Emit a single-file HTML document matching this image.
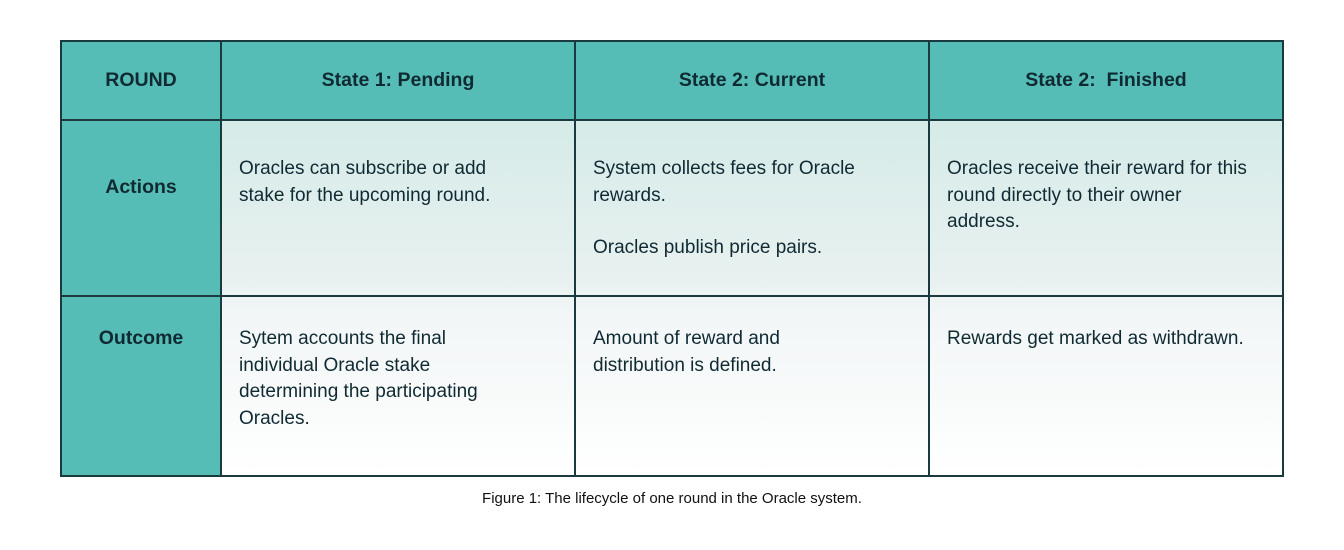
<!DOCTYPE html>
<html><head><meta charset="utf-8"><style>
body{margin:0;width:1344px;height:550px;background:#fff;font-family:"Liberation Sans",sans-serif;position:relative;overflow:hidden}
.c{position:absolute;box-sizing:border-box;color:#102a33}
.bg{position:absolute;left:221px;top:120px;width:1062px;height:356px;background:linear-gradient(#d5ebe8,#e8f1f0 45%,#f2f6f6 55%,#fff)}
.h{background:#55bdb6;font-weight:bold;font-size:19.5px;display:flex;align-items:center;justify-content:center}
.t{font-size:19px;line-height:26.5px;padding:36px 10px 0 18px;white-space:nowrap}
.l{position:absolute;background:#1b3a40}
</style></head><body>
<div class="bg"></div>
<div class="c h" style="left:61px;top:40px;width:160px;height:80px">ROUND</div>
<div class="c h" style="left:221px;top:40px;width:354px;height:80px">State 1: Pending</div>
<div class="c h" style="left:575px;top:40px;width:354px;height:80px">State 2: Current</div>
<div class="c h" style="left:929px;top:40px;width:354px;height:80px">State 2:&nbsp; Finished</div>
<div class="c h" style="left:61px;top:120px;width:160px;height:356px;display:block"></div>
<div class="c" style="left:61px;top:176px;width:160px;text-align:center;font-weight:bold;font-size:19.5px">Actions</div>
<div class="c" style="left:61px;top:327px;width:160px;text-align:center;font-weight:bold;font-size:19.5px">Outcome</div>
<div class="c t" style="left:221px;top:120px;width:354px">Oracles can subscribe or add<br>stake for the upcoming round.</div>
<div class="c t" style="left:575px;top:120px;width:354px">System collects fees for Oracle<br>rewards.<div style="height:26px"></div>Oracles publish price pairs.</div>
<div class="c t" style="left:929px;top:120px;width:354px">Oracles receive their reward for this<br>round directly to their owner<br>address.</div>
<div class="c t" style="left:221px;top:296px;width:354px;padding-top:30px">Sytem accounts the final<br>individual Oracle stake<br>determining the participating<br>Oracles.</div>
<div class="c t" style="left:575px;top:296px;width:354px;padding-top:30px">Amount of reward and<br>distribution is defined.</div>
<div class="c t" style="left:929px;top:296px;width:354px;padding-top:30px">Rewards get marked as withdrawn.</div>
<div class="l" style="left:60px;top:40px;width:1224px;height:2px"></div>
<div class="l" style="left:60px;top:119px;width:1224px;height:1.5px"></div>
<div class="l" style="left:60px;top:295px;width:1224px;height:1.5px"></div>
<div class="l" style="left:60px;top:475px;width:1224px;height:2px"></div>
<div class="l" style="left:60px;top:40px;width:2px;height:437px"></div>
<div class="l" style="left:220px;top:40px;width:1.5px;height:437px"></div>
<div class="l" style="left:574px;top:40px;width:1.5px;height:437px"></div>
<div class="l" style="left:928px;top:40px;width:1.5px;height:437px"></div>
<div class="l" style="left:1282px;top:40px;width:2px;height:437px"></div>
<div class="c" style="left:0;top:490px;width:1344px;text-align:center;font-size:15px;color:#111">Figure 1: The lifecycle of one round in the Oracle system.</div>
</body></html>
